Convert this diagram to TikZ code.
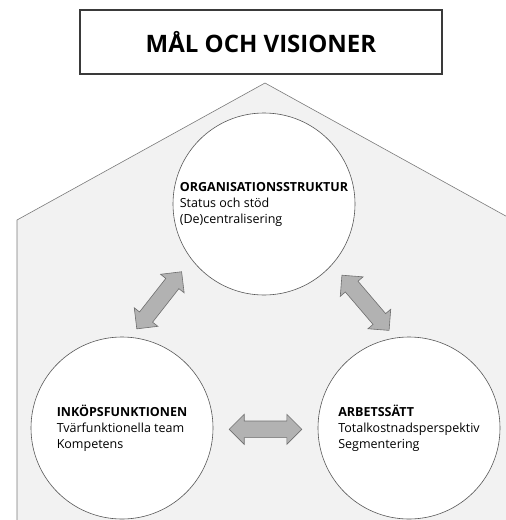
\documentclass[tikz,border=0pt]{standalone}
\usepackage{fontspec}
\setmainfont{Open Sans}
\definecolor{housegray}{HTML}{F2F2F2}
\definecolor{edgegray}{HTML}{7A7A7A}
\definecolor{circleedge}{HTML}{555555}
\definecolor{titleedge}{HTML}{3A3A3A}
\definecolor{arrowfill}{HTML}{B2B2B2}
\definecolor{arrowedge}{HTML}{6E6E6E}
\begin{document}
\begin{tikzpicture}[x=1pt,y=-1pt,
  house/.style={fill=housegray, draw=edgegray, line width=0.6pt},
  titlebox/.style={draw=titleedge, line width=1.1pt, fill=white,
    minimum width=362pt, minimum height=64pt, inner sep=0pt,
    font=\fontsize{24}{29}\selectfont\bfseries},
  area/.style={circle, draw=circleedge, line width=0.6pt, fill=white,
    minimum size=182pt, inner sep=0pt, align=left,
    font=\fontsize{12.5}{16}\selectfont},
  arrowbody/.style={fill=arrowfill, draw=arrowedge, line width=0.6pt, line join=miter},
  pics/dblarrow/.style={code={
    \draw[arrowbody] (-36.3,0) -- (-21.3,15) -- (-21.3,8.3) -- (21.3,8.3)
      -- (21.3,15) -- (36.3,0) -- (21.3,-15) -- (21.3,-8.3)
      -- (-21.3,-8.3) -- (-21.3,-15) -- cycle;}}
]
\useasboundingbox (0,0) rectangle (506,520);
\clip (0,0) rectangle (506,520);

% house outline behind everything
\draw[house] (17,540) -- (17,220) -- (265,83) -- (513,220) -- (513,540) -- cycle;

% heading
\node[titlebox] (goal) at (261,42) {MÅL OCH VISIONER};

% the three areas
\node[area] (org) at (264,204)
  {\textbf{ORGANISATIONSSTRUKTUR}\\Status och stöd\\(De)centralisering};
\node[area] (ink) at (122,428)
  {\textbf{INKÖPSFUNKTIONEN}\\Tvärfunktionella team\\Kompetens};
\node[area] (arb) at (409,428)
  {\textbf{ARBETSSÄTT}\\Totalkostnadsperspektiv\\Segmentering};

% two-way arrows between the areas
\pic[rotate=51.9] at (159.2,300.3) {dblarrow};
\pic[rotate=-49.5] at (365.5,302.8) {dblarrow};
\pic at (265.5,429.3) {dblarrow};
\end{tikzpicture}
\end{document}
